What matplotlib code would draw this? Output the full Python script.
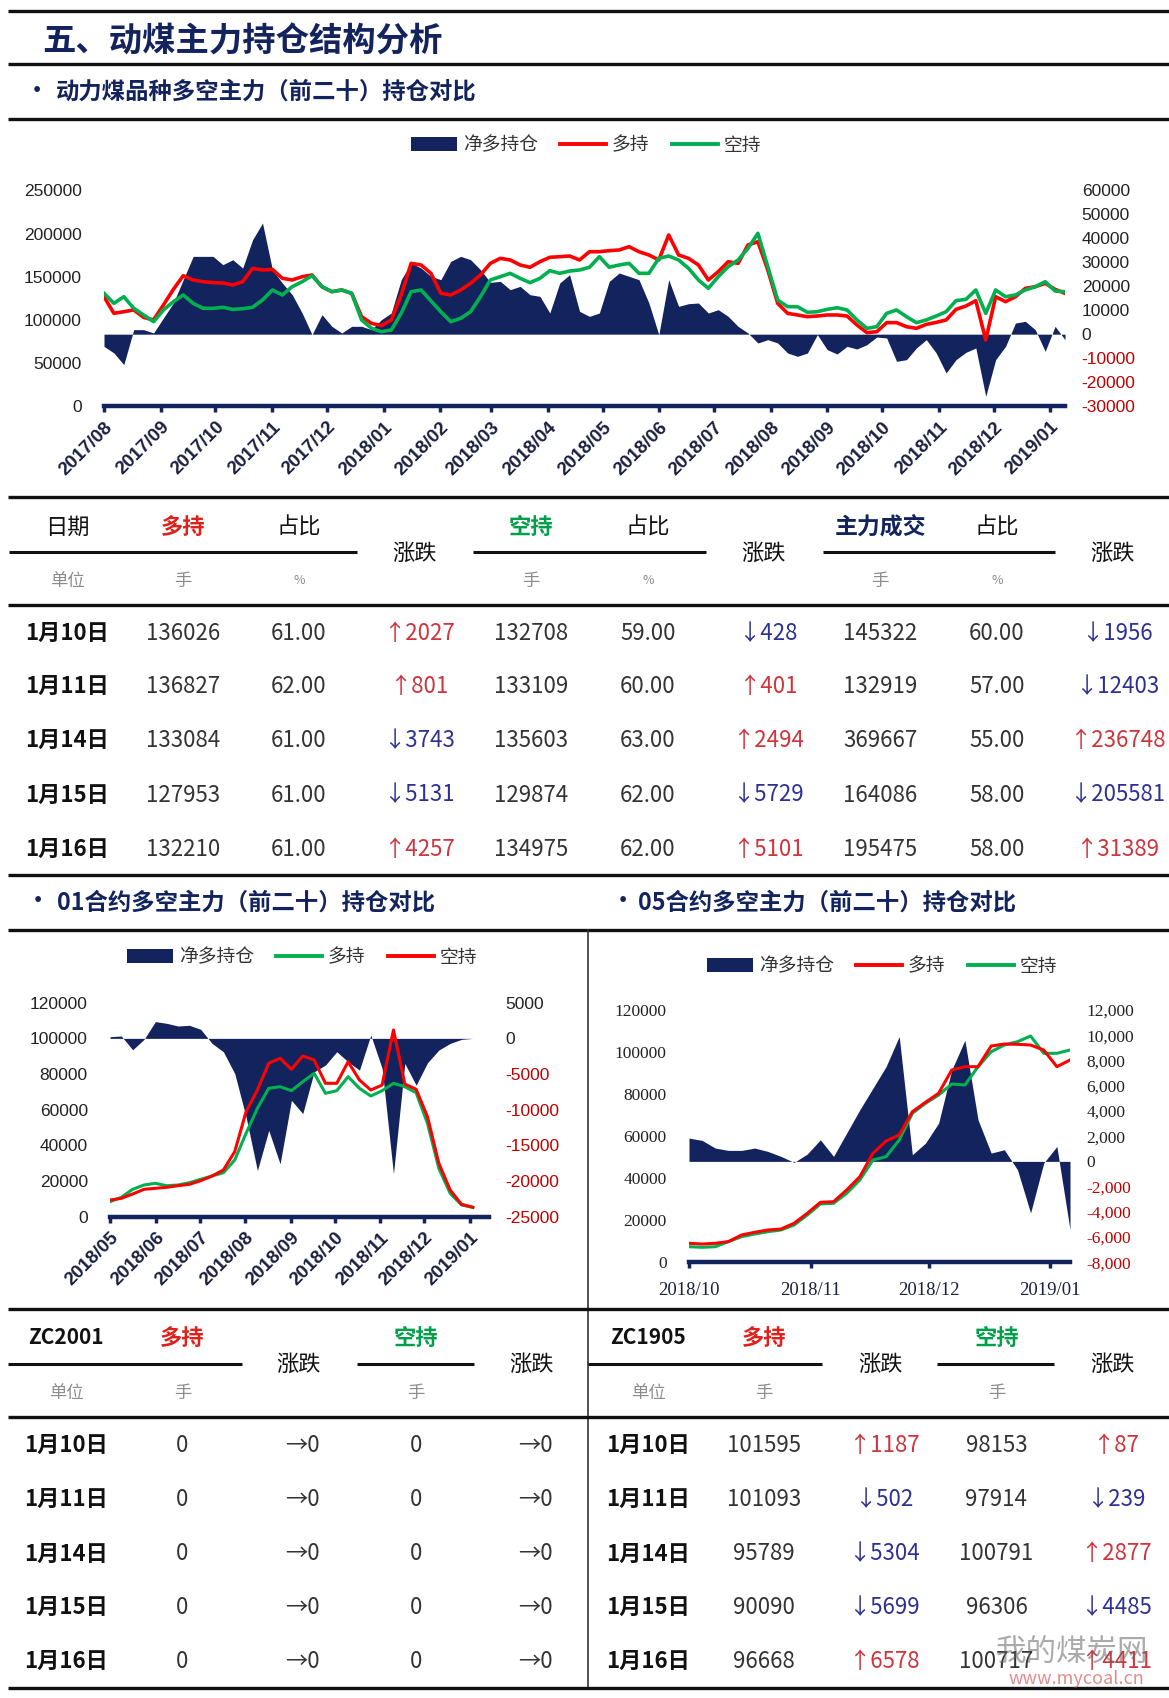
import numpy as np
import pandas as pd
import matplotlib
matplotlib.use('Agg')
import matplotlib.pyplot as plt
from matplotlib.lines import Line2D
from matplotlib.patches import Patch

plt.rcParams['font.family'] = ['Noto Sans CJK SC', 'DejaVu Sans']

W, H = 1169, 1698
NAVY = '#13235E'
RED = '#FF0000'
GREEN = '#00B050'
NEG = '#C00000'
UP = '#D0343C'
DOWN = '#2E3192'
TXT = '#333333'

# ---- main chart: 动力煤品种多空主力 (2017/08 - 2019/01) ----
top_long = [126800, 107500, 109400, 111400, 102800, 99800, 117200, 135300, 151200, 146200, 144200,
            143100, 142700, 140400, 144200, 159700, 157800, 158500, 148100, 146200, 150000, 152000,
            138400, 132600, 134600, 130700, 103600, 95900, 93200, 99800, 128800, 165500, 163600,
            153900, 130700, 128800, 134600, 142300, 152000, 165500, 171300, 169400, 163600, 160900,
            167400, 172500, 173200, 174000, 169400, 179000, 179000, 180200, 181000, 184800, 179000,
            175200, 169400, 198400, 175200, 171300, 163600, 146200, 155800, 167400, 165500, 186800,
            190600, 157800, 119100, 107500, 105600, 103600, 104400, 105600, 105600, 104400, 94000,
            85100, 86200, 96700, 96700, 92000, 90100, 94700, 97000, 99800, 112100, 116000, 122200,
            76600, 126800, 121000, 126800, 136500, 138400, 142300, 135300, 130700]
top_short = [130700, 119100, 126800, 113300, 105600, 97800, 111400, 121000, 128800, 119100, 113300,
             113300, 114500, 112100, 112900, 114500, 123000, 134600, 128800, 138400, 144200, 151200,
             138400, 132600, 134600, 130700, 99800, 90100, 86200, 88200, 107500, 132600, 134600,
             122000, 109400, 97800, 101700, 109400, 126800, 146200, 150000, 153900, 148100, 143100,
             148100, 157000, 153900, 156600, 157800, 160900, 173200, 160900, 163600, 165500, 153900,
             153900, 171300, 174000, 169400, 159700, 146200, 136500, 150000, 161600, 169400, 182900,
             200300, 161600, 123000, 115200, 115200, 108700, 109400, 112100, 114000, 111400, 99800,
             90100, 92000, 107500, 111400, 103600, 96700, 99800, 104400, 109400, 122200, 123700,
             134600, 107500, 134600, 126800, 128800, 134600, 138400, 144200, 133400, 132600]
top_net = [-5090, -7850, -12730, 1880, 1880, 500, 6760, 13010, 22750, 32490, 32490, 32490, 29020,
           31100, 27620, 39450, 46410, 26930, 21360, 16490, 8840, -210, 8140, 3270, 500, 3270, 3270,
           1880, 6050, 8840, 22750, 29710, 27620,
           24150, 22750, 30410, 32490, 31100, 26930, 21640, 22060, 18580, 19970, 16490, 15790, 8840,
           21360, 24840, 9530, 7440, 8840, 22060, 25540, 24150, 22750, 13010, -210, 22750, 11620,
           12730, 13010, 8840, 10230, 7440, 3270, 500,
           -3690, -2300, -3690, -7860, -9260, -7860, -210, -6470, -8280, -5090, -6190, -4380, -1180,
           -1600, -11340, -10650, -5780, -2300, -7860, -16210, -10650, -7580, -5780, -25960, -10650,
           -5090, 4660, 5360, 1880, -7170, 3270, -2300]
top_dates = pd.date_range('2017-08-01', '2019-01-09', periods=len(top_net))

# ---- 01合约 ----
bl_long = [8410, 10880, 15360, 17780, 18730, 17380, 17780, 19060, 20970, 22820, 24670, 31790, 46760,
           60780, 71990, 72890, 70650, 75690, 80400, 69190, 70650, 78500, 71990, 67680, 70650, 74800,
           72890, 69530, 52370, 27140, 13120, 6560, 5270]
bl_short = [9360, 10300, 12730, 15360, 15920, 16480, 17380, 18170, 20190, 22820, 26180, 36450, 58870,
            71040, 86010, 88810, 82650, 90100, 87900, 74800, 74800, 86900, 76650, 71040, 73840, 104700,
            74400, 71430, 56070, 29940, 14970, 6950, 5270]
bl_net = [235, 328, -1600, -141, 2345, 2110, 1735, 1830, 1266, -704, -1876, -4925, -11020, -18530,
          -12900, -17590, -8680, -10550, -4690, -3750, -1876, -3280, -4460, 469, -4220, -18990, -3520,
          -6570, -3420, -1640, -704, -141, 0]
bl_dates = pd.date_range('2018-05-01', '2019-01-03', periods=len(bl_net))

# ---- 05合约 ----
br_long = [9040, 8700, 9040, 9840, 12980, 14270, 15360, 15840, 18550, 23300, 28540, 28820, 34390,
           40710, 51840, 57690, 60540, 71620, 76100, 80380, 91460, 93030, 93030, 102870, 103820,
           103680, 103350, 100970, 93030, 96210]
br_short = [7420, 7130, 7420, 9840, 12180, 13460, 14550, 15360, 17740, 22500, 27730, 28060, 32820,
            39140, 48650, 50220, 58170, 70860, 75620, 79570, 84800, 84320, 93030, 100160, 103350,
            104920, 107630, 99400, 99400, 100970]
br_net = [1846, 1661, 1055, 870, 870, 1055, 791, 396, -79, 580, 1714, 396, 2241, 4087, 5801, 7515,
          9900, 527, 1450, 3033, 7252, 9600, 3296, 659, 923, -659, -4087, -132, 1187, -5406]
br_dates = pd.date_range('2018-10-01', '2019-01-06', periods=len(br_net))

# ---- tables ----
row_dates = ['1月10日', '1月11日', '1月14日', '1月15日', '1月16日']
zc_long = [136026, 136827, 133084, 127953, 132210]
zc_long_pct = [61.00, 62.00, 61.00, 61.00, 61.00]
zc_long_chg = [2027, 801, -3743, -5131, 4257]
zc_short = [132708, 133109, 135603, 129874, 134975]
zc_short_pct = [59.00, 60.00, 63.00, 62.00, 62.00]
zc_short_chg = [-428, 401, 2494, -5729, 5101]
zc_vol = [145322, 132919, 369667, 164086, 195475]
zc_vol_pct = [60.00, 57.00, 55.00, 58.00, 58.00]
zc_vol_chg = [-1956, -12403, 236748, -205581, 31389]

zc2001_long = [0, 0, 0, 0, 0]
zc2001_long_chg = [0, 0, 0, 0, 0]
zc2001_short = [0, 0, 0, 0, 0]
zc2001_short_chg = [0, 0, 0, 0, 0]

zc1905_long = [101595, 101093, 95789, 90090, 96668]
zc1905_long_chg = [1187, -502, -5304, -5699, 6578]
zc1905_short = [98153, 97914, 100791, 96306, 100717]
zc1905_short_chg = [87, -239, 2877, -4485, 4411]

fig = plt.figure(figsize=(W / 100, H / 100), dpi=100)


def fx(x):
    return x / W


def fy(y):
    return 1 - y / H


def hline(y, x0=8, x1=W, lw=2.4, color='#111111'):
    fig.add_artist(Line2D([fx(x0), fx(x1)], [fy(y), fy(y)], transform=fig.transFigure,
                          lw=lw, color=color, solid_capstyle='butt'))


def txt(x, y, s, ha='center', **kw):
    fig.text(fx(x), fy(y), s, ha=ha, va='center', **kw)


def chg(v):
    if v > 0:
        return '↑' + str(v), UP
    if v < 0:
        return '↓' + str(-v), DOWN
    return '→0', TXT


def holdings_chart(rect, dates, net, long_, short, xlim, months, left_ticks, right_ticks,
                   long_color, short_color, red_on_top, rotate, tick_family, right_fmt,
                   legend_xy, lw):
    ax_net = fig.add_axes(rect)
    ax_net.fill_between(dates, 0, net, color=NAVY, lw=0)
    ax_ln = ax_net.twinx()
    ax_net.yaxis.tick_right()
    ax_ln.yaxis.tick_left()
    if red_on_top:
        ax_ln.plot(dates, long_, color=long_color, lw=lw)
        ax_ln.plot(dates, short, color=short_color, lw=lw)
    else:
        ax_ln.plot(dates, short, color=short_color, lw=lw)
        ax_ln.plot(dates, long_, color=long_color, lw=lw)
    ax_net.set_xlim(pd.Timestamp(xlim[0]), pd.Timestamp(xlim[1]))
    ax_net.set_ylim(right_ticks[0], right_ticks[-1])
    ax_ln.set_ylim(left_ticks[0], left_ticks[-1])
    for a in (ax_net, ax_ln):
        for s in ('left', 'right', 'top'):
            a.spines[s].set_visible(False)
    ax_ln.spines['bottom'].set_visible(False)
    ax_net.spines['bottom'].set_position(('data', right_ticks[0]))
    ax_net.spines['bottom'].set_color(NAVY)
    ax_net.spines['bottom'].set_linewidth(3.2)

    ax_net.set_yticks(right_ticks)
    ax_net.set_yticklabels([right_fmt(v) for v in right_ticks], fontsize=12.5,
                           family=tick_family, color='#222222')
    for v, tk in zip(right_ticks, ax_net.yaxis.get_major_ticks()):
        if v < 0:
            tk.label2.set_color(NEG)
    ax_net.tick_params(axis='y', length=0, pad=12)
    ax_ln.set_yticks(left_ticks)
    ax_ln.set_yticklabels([str(v) for v in left_ticks], fontsize=12.5,
                          family=tick_family, color='#222222')
    ax_ln.tick_params(axis='y', length=0, pad=16)

    ax_net.set_xticks(months)
    labels = [d.strftime('%Y/%m') for d in months]
    if rotate:
        ax_net.set_xticklabels(labels, rotation=45, ha='right', rotation_mode='anchor',
                               fontsize=13.5, fontweight='bold', family=tick_family,
                               color='#1A2040')
        ax_net.tick_params(axis='x', length=4, width=2.5, color=NAVY, pad=5)
    else:
        ax_net.set_xticklabels(labels, fontsize=13.5, family=tick_family, color='#1A2040')
        ax_net.tick_params(axis='x', length=4, width=2.5, color=NAVY, pad=10)

    handles = [Patch(facecolor=NAVY, edgecolor='none'),
               Line2D([], [], color=long_color, lw=2.8),
               Line2D([], [], color=short_color, lw=2.8)]
    fig.legend(handles, ['净多持仓', '多持', '空持'], loc='center',
               bbox_to_anchor=(fx(legend_xy[0]), fy(legend_xy[1])), ncol=3, frameon=False,
               prop={'size': 13.5}, labelcolor='#333333', handlelength=2.45,
               handletextpad=0.3, columnspacing=1.2)


# ---- headings ----
hline(11)
txt(42, 42, '五、动煤主力持仓结构分析', ha='left', fontsize=24, fontweight='bold', color=NAVY)
hline(64)
txt(37, 91, '•', fontsize=16, fontweight='bold', color=NAVY)
txt(56, 92, '动力煤品种多空主力（前二十）持仓对比', ha='left', fontsize=16.8,
    fontweight='bold', color=NAVY)
hline(119)

holdings_chart([fx(104), fy(406), (1065 - 104) / W, (406 - 190.5) / H], top_dates, top_net,
               top_long, top_short, ('2017-08-01', '2019-01-09'),
               pd.date_range('2017-08-01', '2019-01-01', freq='MS'),
               [0, 50000, 100000, 150000, 200000, 250000],
               [-30000, -20000, -10000, 0, 10000, 20000, 30000, 40000, 50000, 60000],
               RED, GREEN, True, True, 'Liberation Sans', str, (586, 145), 2.6)

# ---- main table ----
hline(496.5)
col_x = [67, 183, 299, 415, 531, 648, 764, 880, 997, 1113]
txt(col_x[0], 527, '日期', fontsize=16, color='#111111')
txt(col_x[1], 527, '多持', fontsize=16, fontweight='bold', color='#E0201A')
txt(col_x[2], 527, '占比', fontsize=16, color='#111111')
txt(col_x[3], 553, '涨跌', fontsize=16, color='#111111')
txt(col_x[4], 527, '空持', fontsize=16, fontweight='bold', color='#00A04A')
txt(col_x[5], 527, '占比', fontsize=16, color='#111111')
txt(col_x[6], 553, '涨跌', fontsize=16, color='#111111')
txt(col_x[7], 527, '主力成交', fontsize=16.5, fontweight='bold', color=NAVY)
txt(col_x[8], 527, '占比', fontsize=16, color='#111111')
txt(col_x[9], 553, '涨跌', fontsize=16, color='#111111')
hline(552, 9, 357, lw=2.2)
hline(552, 473, 706, lw=2.2)
hline(552, 823, 1055, lw=2.2)
for x, s in zip(col_x, ['单位', '手', '%', '', '手', '%', '', '手', '%', '']):
    if s:
        txt(x, 581, s, fontsize=12.5 if s != '%' else 9, color='#8C8C8C')
hline(605)

row_y = [633.3, 686.7, 740.7, 795, 849.3]
for i, y in enumerate(row_y):
    txt(col_x[0], y, row_dates[i], fontsize=16, fontweight='bold', color='#111111')
    txt(col_x[1], y, str(zc_long[i]), fontsize=16, color=TXT)
    txt(col_x[2], y, '%.2f' % zc_long_pct[i], fontsize=16, color=TXT)
    s, c = chg(zc_long_chg[i])
    txt(col_x[3] + 4, y, s, fontsize=16, color=c)
    txt(col_x[4], y, str(zc_short[i]), fontsize=16, color=TXT)
    txt(col_x[5], y, '%.2f' % zc_short_pct[i], fontsize=16, color=TXT)
    s, c = chg(zc_short_chg[i])
    txt(col_x[6] + 4, y, s, fontsize=16, color=c)
    txt(col_x[7], y, str(zc_vol[i]), fontsize=16, color=TXT)
    txt(col_x[8], y, '%.2f' % zc_vol_pct[i], fontsize=16, color=TXT)
    s, c = chg(zc_vol_chg[i])
    txt(col_x[9] + 4, y, s, fontsize=16, color=c)
hline(875)

# ---- contract sub headings ----
txt(38, 902, '•', fontsize=16, fontweight='bold', color=NAVY)
txt(57, 903, '01合约多空主力（前二十）持仓对比', ha='left', fontsize=16.8,
    fontweight='bold', color=NAVY)
txt(623, 902, '•', fontsize=16, fontweight='bold', color=NAVY)
txt(638, 903, '05合约多空主力（前二十）持仓对比', ha='left', fontsize=16.8,
    fontweight='bold', color=NAVY)
hline(930)
fig.add_artist(Line2D([fx(588), fx(588)], [fy(930), fy(1688)], transform=fig.transFigure,
                      lw=1.2, color='#333333'))

holdings_chart([fx(110), fy(1216.7), (489 - 110) / W, (1216.7 - 1002.7) / H], bl_dates, bl_net,
               bl_long, bl_short, ('2018-05-01', '2019-01-14'),
               pd.date_range('2018-05-01', '2019-01-01', freq='MS'),
               [0, 20000, 40000, 60000, 80000, 100000, 120000],
               [-25000, -20000, -15000, -10000, -5000, 0, 5000],
               GREEN, RED, True, True, 'Liberation Sans', str, (302, 957), 2.2)

holdings_chart([fx(689), fy(1262.3), (1070 - 689) / W, (1262.3 - 1010) / H], br_dates, br_net,
               br_long, br_short, ('2018-10-01', '2019-01-06'),
               pd.date_range('2018-10-01', '2019-01-01', freq='MS'),
               [0, 20000, 40000, 60000, 80000, 100000, 120000],
               [-8000, -6000, -4000, -2000, 0, 2000, 4000, 6000, 8000, 10000, 12000],
               RED, GREEN, False, False, 'Liberation Serif', lambda v: f'{v:,}', (882, 966), 2.2)

# ---- contract tables ----
hline(1309)


def contract_table(x0, cols, code, longs, long_chg, shorts, short_chg):
    txt(cols[0], 1338, code, fontsize=15, fontweight='bold', color='#111111')
    txt(cols[1], 1338, '多持', fontsize=16, fontweight='bold', color='#E0201A')
    txt(cols[2], 1364, '涨跌', fontsize=16, color='#111111')
    txt(cols[3], 1338, '空持', fontsize=16, fontweight='bold', color='#00A04A')
    txt(cols[4], 1364, '涨跌', fontsize=16, color='#111111')
    hline(1364, x0, x0 + 234, lw=2.2)
    hline(1364, x0 + 349, x0 + 466, lw=2.2)
    txt(cols[0], 1393, '单位', fontsize=12.5, color='#8C8C8C')
    txt(cols[1], 1393, '手', fontsize=12.5, color='#8C8C8C')
    txt(cols[3], 1393, '手', fontsize=12.5, color='#8C8C8C')
    for i, y in enumerate([1445, 1499.3, 1554, 1607.3, 1661.7]):
        txt(cols[0], y, row_dates[i], fontsize=16, fontweight='bold', color='#111111')
        txt(cols[1], y, str(longs[i]), fontsize=16, color=TXT)
        s, c = chg(long_chg[i])
        txt(cols[2] + 3, y, s, fontsize=16, color=c)
        txt(cols[3], y, str(shorts[i]), fontsize=16, color=TXT)
        s, c = chg(short_chg[i])
        txt(cols[4] + 3, y, s, fontsize=16, color=c)


contract_table(8, [66, 182.5, 299, 415.7, 532], 'ZC2001',
               zc2001_long, zc2001_long_chg, zc2001_short, zc2001_short_chg)
contract_table(588, [648, 764, 881, 996.5, 1113], 'ZC1905',
               zc1905_long, zc1905_long_chg, zc1905_short, zc1905_short_chg)
hline(1417)
hline(1688)

# watermark
txt(1072, 1652, '我的煤炭网', fontsize=22, color='#666666', alpha=0.55)
txt(1076, 1679, 'www.mycoal.cn', fontsize=13, color='#D04040', alpha=0.6)

fig.savefig('out.png', dpi=100)
